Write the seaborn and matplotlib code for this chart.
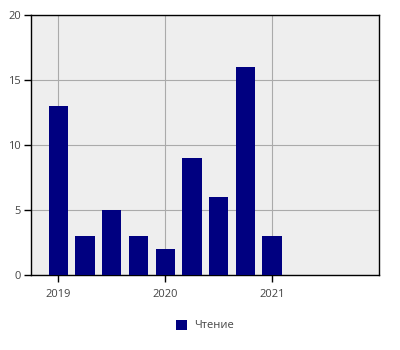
import matplotlib
matplotlib.use("Agg")
import matplotlib.pyplot as plt
import seaborn as sns
import pandas as pd
from matplotlib.patches import Patch

quarters = [2019.0, 2019.25, 2019.5, 2019.75, 2020.0, 2020.25, 2020.5, 2020.75, 2021.0]
values = [13, 3, 5, 3, 2, 9, 6, 16, 3]
series_name = "Чтение"
x_ticks = [2019, 2020, 2021]
x_tick_labels = ["2019", "2020", "2021"]
y_ticks = [0, 5, 10, 15, 20]

sns.set_theme(style="white")
plt.rcParams['font.family'] = ['Open Sans', 'DejaVu Sans']

df = pd.DataFrame({"t": quarters, "v": values})

fig = plt.figure(figsize=(4, 3.5), dpi=100)
ax = fig.add_axes([31/400, 75/350, 348/400, 260/350])
ax.set_facecolor("#eeeeee")

sns.barplot(data=df, x="t", y="v", native_scale=True, width=0.72,
            color="#000080", saturation=1, ax=ax, zorder=3, edgecolor="none")

ax.set_xlim(2018.745, 2022.0)
ax.set_ylim(0, 20)
ax.set_xticks(x_ticks)
ax.set_xticklabels(x_tick_labels)
ax.set_yticks(y_ticks)
ax.grid(True, color="#aaaaaa", linewidth=0.8, zorder=0)
ax.set_axisbelow(True)
for s in ax.spines.values():
    s.set_color("black")
    s.set_linewidth(1.0)
ax.tick_params(axis="both", which="both", direction="out", length=4.7, width=1,
               color="black", labelsize=8, labelcolor="#444444",
               bottom=True, left=True)
ax.tick_params(axis="x", pad=5.5)
ax.tick_params(axis="y", pad=2.5)
ax.set_xlabel("")
ax.set_ylabel("")

handles = [Patch(facecolor="#000080", edgecolor="none", label=series_name)]
fig.legend(handles=handles, loc="center", bbox_to_anchor=(0.512, 1 - 325.5/350),
           frameon=False, fontsize=8, handlelength=1.0, handleheight=1.0,
           handletextpad=0.6, labelcolor="#444444")

fig.savefig("out.png", dpi=100)
